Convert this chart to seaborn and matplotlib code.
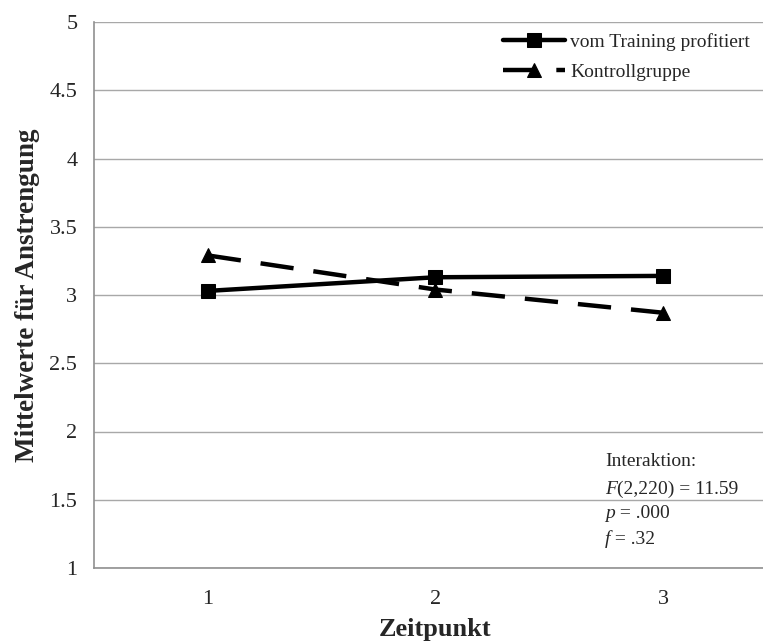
import matplotlib
matplotlib.use("Agg")
import matplotlib.pyplot as plt
import seaborn as sns
import pandas as pd
from matplotlib.ticker import FixedLocator

zeitpunkt = [1, 2, 3]
training = [3.03, 3.13, 3.14]
kontroll = [3.29, 3.04, 2.87]
group_names = ["vom Training profitiert", "Kontrollgruppe"]
y_ticks = [1, 1.5, 2, 2.5, 3, 3.5, 4, 4.5, 5]
y_ticklabels = ["1", "1.5", "2", "2.5", "3", "3.5", "4", "4.5", "5"]

df = pd.DataFrame({
    "Zeitpunkt": zeitpunkt * 2,
    "Wert": training + kontroll,
    "Gruppe": [group_names[0]] * 3 + [group_names[1]] * 3,
})

sns.set_style("white")
plt.rcParams["font.family"] = ["Liberation Serif", "DejaVu Serif"]

fig = plt.figure(figsize=(7.63, 6.44), dpi=100)
ax = fig.add_axes([94 / 763, 1 - 568 / 644, (777 - 94) / 763, (568 - 22) / 644])

sns.lineplot(data=df, x="Zeitpunkt", y="Wert", style="Gruppe", hue="Gruppe",
             palette=["black", "black"], markers=["s", "^"],
             dashes=[(None, None), (7.5, 4.5)], markersize=9.5, linewidth=3.2,
             markeredgecolor="black", ax=ax, legend=True, zorder=3)

ax.set_xlim(0.5, 3.5)
ax.set_ylim(1, 5)
ax.set_yticks(y_ticks)
ax.set_yticklabels(y_ticklabels)
ax.yaxis.grid(True, color="#a8a8a8", linewidth=1)
ax.set_axisbelow(True)
ax.set_xticks(zeitpunkt)
ax.set_xticklabels([str(z) for z in zeitpunkt])
ax.xaxis.set_minor_locator(FixedLocator([0.5, 1.5, 2.5, 3.5]))
ax.tick_params(axis="x", which="major", length=0, pad=16, labelsize=16)
ax.tick_params(axis="x", which="minor", length=7, color="#909090", width=1, direction="out")
ax.tick_params(axis="y", length=7, color="#909090", width=1, direction="out", labelsize=16, pad=5)
for s in ["top", "right"]:
    ax.spines[s].set_visible(False)
for s in ["left", "bottom"]:
    ax.spines[s].set_color("#909090")
    ax.spines[s].set_linewidth(1.2)

ax.set_xlabel("Zeitpunkt", fontsize=19, fontweight="bold", labelpad=6)
ax.set_ylabel("Mittelwerte für Anstrengung", fontsize=19.5, fontweight="bold", labelpad=7)

leg = ax.legend(loc="upper left", bbox_to_anchor=(503 / 763, 1 - 33 / 644),
                bbox_transform=fig.transFigure, frameon=False,
                fontsize=14, handlelength=3.2, handletextpad=0.25, labelspacing=0.65,
                borderaxespad=0, borderpad=0)

fs = 14
x0 = 605 / 763
fig.text(x0, 1 - 462 / 644, "Interaktion:", fontsize=fs, va="center")
t = fig.text(x0, 1 - 489 / 644, "F", fontsize=fs, va="center", style="italic")
ax.annotate("(2,220) = 11.59", xy=(1, 0), xycoords=t, va="bottom", ha="left", fontsize=fs)
t = fig.text(x0, 1 - 514 / 644, "p", fontsize=fs, va="center", style="italic")
ax.annotate(" = .000", xy=(1, 0), xycoords=t, va="bottom", ha="left", fontsize=fs)
t = fig.text(x0, 1 - 539 / 644, "f", fontsize=fs, va="center", style="italic")
ax.annotate(" = .32", xy=(1, 0), xycoords=t, va="bottom", ha="left", fontsize=fs)

fig.savefig("out.png", dpi=100)
